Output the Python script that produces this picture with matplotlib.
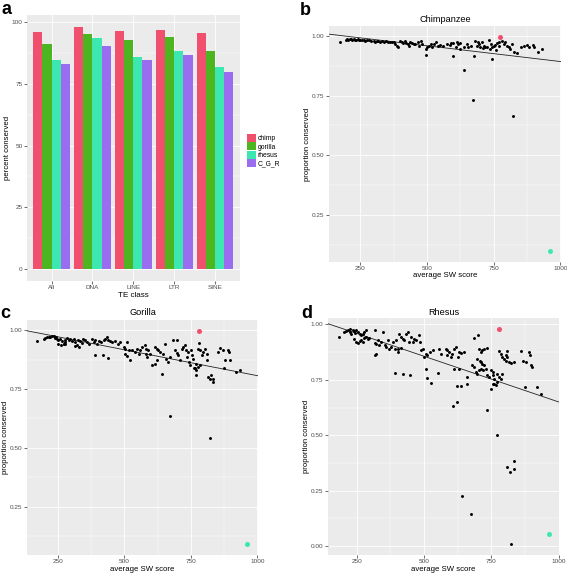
import numpy as np
import matplotlib
matplotlib.use("Agg")
from matplotlib import pyplot as plt
from matplotlib.ticker import MultipleLocator, FormatStrFormatter, FixedLocator
from matplotlib.patches import Patch

# ---- data ----
te_classes = ["All", "DNA", "LINE", "LTR", "SINE"]
species = ["chimp", "gorilla", "rhesus", "C_G_R"]
chimp_pct = [96.1, 98.0, 96.5, 96.8, 95.5]
gorilla_pct = [91.1, 95.4, 92.8, 93.8, 88.2]
rhesus_pct = [84.7, 93.6, 85.9, 88.2, 82.0]
cgr_pct = [83.0, 90.5, 84.7, 86.6, 80.0]
bar_colors = ["#F0506E", "#4CB520", "#3DE8B0", "#9A6CF0"]

# chimpanzee: average SW score vs proportion conserved
chimp_sw = [172, 195, 200, 205, 210, 215, 220, 225, 230, 235, 240, 245, 250, 255, 262, 268, 275, 282, 290,
            300, 305, 312, 318, 325, 332, 340, 348, 355, 362, 368, 375, 381, 388, 392,
            398, 405, 410, 416, 422, 428, 432, 438, 445, 450, 455, 467, 470, 476, 482,
            495, 501, 507, 495, 515, 520, 526, 533, 540, 550, 560,
            574, 587, 590, 599, 610, 612, 618, 625, 599, 625, 637, 640, 650, 655, 665, 675,
            681, 687, 690, 694, 700, 706, 710, 713, 719, 725, 731, 738, 740, 744, 750, 756, 760, 763, 769, 770,
            744, 782, 788, 794, 800, 807, 813, 819, 826, 838, 851, 863, 876, 882, 897, 901, 917, 932,
            672, 822]
chimp_prop = [0.975, 0.985, 0.988, 0.983, 0.987, 0.986, 0.984, 0.988, 0.985, 0.983, 0.986, 0.984, 0.982, 0.985, 0.983, 0.981, 0.984, 0.982, 0.980,
              0.978, 0.975, 0.979, 0.977, 0.976, 0.978, 0.975, 0.977, 0.974, 0.976, 0.973, 0.973, 0.966, 0.959, 0.952,
              0.978, 0.975, 0.970, 0.977, 0.972, 0.968, 0.959, 0.974, 0.970, 0.965, 0.968, 0.973, 0.960, 0.980, 0.966,
              0.945, 0.952, 0.959, 0.920, 0.965, 0.952, 0.966, 0.973, 0.960, 0.962, 0.958,
              0.966, 0.964, 0.970, 0.969, 0.955, 0.973, 0.966, 0.970, 0.918, 0.945, 0.952, 0.857, 0.966, 0.955, 0.960, 0.917,
              0.980, 0.960, 0.975, 0.966, 0.952, 0.973, 0.950, 0.960, 0.952, 0.955, 0.983, 0.945, 0.965, 0.952, 0.960, 0.964, 0.940, 0.969, 0.973, 0.960,
              0.903, 0.980, 0.966, 0.973, 0.959, 0.952, 0.945, 0.966, 0.932, 0.927, 0.955, 0.959, 0.963, 0.952, 0.963, 0.955, 0.931, 0.945,
              0.732, 0.665]

# gorilla
gorilla_sw = [173, 196, 202, 208, 215, 221, 227, 234, 237, 242, 246, 252, 259, 265, 272, 277, 275, 284, 290, 296, 303,
              252, 262, 271, 277,
              309, 313, 315, 321, 328, 325, 334, 340, 346, 353, 359, 365,
              378, 384, 390, 397, 403, 413, 422, 428, 434, 440, 447, 453, 463, 475, 484,
              388, 418, 440,
              497, 503, 509, 516, 503, 509, 522, 528, 541, 547, 553, 560, 566,
              577, 583, 590, 596, 581, 586, 602, 615, 621, 615, 621, 627, 633, 640,
              652, 646, 658, 665, 671, 683, 696, 690, 696, 702, 709, 715, 721, 727, 731, 740, 734, 744, 746,
              752, 756, 759, 761, 765, 771, 771, 777, 781, 786, 790, 796, 802, 809, 811, 815, 821, 827, 834, 834,
              771, 777, 784, 853, 859, 871, 874, 878, 890, 894, 899, 919, 934,
              672, 821]
gorilla_prop = [0.955, 0.965, 0.969, 0.972, 0.974, 0.972, 0.977, 0.978, 0.969, 0.974, 0.965, 0.958, 0.965, 0.955, 0.943, 0.950, 0.960, 0.969, 0.958, 0.963, 0.955,
                0.944, 0.936, 0.941, 0.944,
                0.965, 0.950, 0.932, 0.936, 0.929, 0.958, 0.955, 0.946, 0.965, 0.958, 0.951, 0.944,
                0.965, 0.951, 0.958, 0.944, 0.955, 0.951, 0.958, 0.965, 0.972, 0.958, 0.955, 0.951, 0.955, 0.944, 0.951,
                0.894, 0.894, 0.884,
                0.929, 0.922, 0.951, 0.915, 0.898, 0.890, 0.876, 0.915, 0.908, 0.922, 0.901, 0.915, 0.929,
                0.936, 0.922, 0.915, 0.901, 0.901, 0.887, 0.852, 0.859, 0.873, 0.929, 0.922, 0.915, 0.908, 0.816,
                0.943, 0.901, 0.880, 0.866, 0.887, 0.960, 0.958, 0.915, 0.904, 0.894, 0.873, 0.922, 0.929, 0.936, 0.915, 0.908, 0.887, 0.866, 0.852,
                0.915, 0.894, 0.880, 0.842, 0.838, 0.830, 0.809, 0.922, 0.946, 0.915, 0.894, 0.908, 0.922, 0.901, 0.873, 0.802, 0.795, 0.809, 0.781, 0.795,
                0.859, 0.845, 0.852, 0.908, 0.926, 0.915, 0.842, 0.873, 0.915, 0.908, 0.873, 0.823, 0.830,
                0.634, 0.544]

# rhesus
rhesus_sw = [182, 204, 210, 216, 223, 225, 229, 235, 241, 245, 247, 254, 260, 266, 272, 278, 285,
             241, 247, 254, 260, 266, 272, 278, 285, 291, 297,
             316, 322, 319,
             316, 322, 328, 334, 340, 347, 353, 359, 365, 371, 377, 383, 390, 396, 402, 408, 414, 421, 427, 433, 439, 445, 451, 458, 464, 470, 480, 483,
             402, 414, 489, 495, 501, 507, 510, 520, 532, 557, 563,
             393, 423, 448, 507, 510, 526, 551,
             580, 586, 593, 584, 599, 605, 611, 617, 624, 630, 636, 648,
             611, 630, 621, 638, 658, 661, 621, 608,
             685, 700, 704, 710, 716, 723, 732,
             679, 685, 692, 698, 704, 710, 716, 723, 698, 708, 713, 720, 729, 735, 741, 747, 754, 757, 760, 760, 754, 748, 766, 772, 778, 785, 790, 770,
             732, 778, 785, 791, 797, 803, 809, 803, 815, 809, 822, 834,
             859, 869, 877, 890, 893, 898, 902, 875, 918, 933,
             772, 834, 809, 834, 819, 642, 674, 823]
rhesus_prop = [0.943, 0.965, 0.968, 0.973, 0.977, 0.965, 0.958, 0.973, 0.968, 0.962, 0.973, 0.965, 0.958, 0.950, 0.958, 0.965, 0.973,
               0.932, 0.920, 0.917, 0.923, 0.928, 0.920, 0.938, 0.943, 0.932, 0.938,
               0.973, 0.867, 0.863,
               0.917, 0.913, 0.928, 0.905, 0.920, 0.965, 0.905, 0.898, 0.928, 0.890, 0.898, 0.920, 0.890, 0.928, 0.890, 0.958, 0.943, 0.935, 0.928, 0.958, 0.965, 0.920, 0.943, 0.920, 0.935, 0.928, 0.950, 0.920,
               0.875, 0.893, 0.883, 0.890, 0.852, 0.868, 0.860, 0.875, 0.883, 0.890, 0.867,
               0.780, 0.777, 0.773, 0.800, 0.759, 0.735, 0.782,
               0.890, 0.883, 0.875, 0.860, 0.852, 0.868, 0.890, 0.898, 0.852, 0.875, 0.872, 0.875,
               0.800, 0.797, 0.721, 0.721, 0.732, 0.762, 0.652, 0.631,
               0.938, 0.953, 0.890, 0.875, 0.883, 0.890, 0.895,
               0.818, 0.807, 0.785, 0.777, 0.792, 0.830, 0.822, 0.815, 0.845, 0.837, 0.800, 0.792, 0.800, 0.770, 0.762, 0.792, 0.785, 0.770, 0.755, 0.729, 0.732, 0.710, 0.725, 0.742, 0.762, 0.755, 0.777, 0.777,
               0.616, 0.878, 0.867, 0.852, 0.845, 0.860, 0.852, 0.837, 0.830, 0.878, 0.827, 0.830,
               0.878, 0.837, 0.830, 0.875, 0.860, 0.815, 0.807, 0.717, 0.717, 0.687,
               0.501, 0.383, 0.355, 0.348, 0.334, 0.227, 0.145, 0.009]

# highlighted points (red = top, green = bottom) per panel
red_sw = [775, 780, 778]
red_prop = [0.997, 0.999, 0.980]
green_sw = [963, 963, 962]
green_prop = [0.097, 0.089, 0.056]

panels = [("Chimpanzee", chimp_sw, chimp_prop, [0.25, 0.50, 0.75, 1.00]),
          ("Gorilla", gorilla_sw, gorilla_prop, [0.25, 0.50, 0.75, 1.00]),
          ("Rhesus", rhesus_sw, rhesus_prop, [0.00, 0.25, 0.50, 0.75, 1.00])]

plt.rcParams['font.family'] = ['Liberation Sans', 'DejaVu Sans']
W, H = 567, 574
fig = plt.figure(figsize=(W / 100, H / 100), dpi=100)


def px_axes(l, t, r, b):
    return fig.add_axes([l / W, 1 - b / H, (r - l) / W, (b - t) / H])


def gg(ax):
    ax.set_facecolor('#EBEBEB')
    for s in ax.spines.values():
        s.set_visible(False)
    ax.tick_params(length=2, width=0.5, color='#333333', labelsize=4.6, labelcolor='#4D4D4D', pad=1.2)
    ax.tick_params(which='minor', length=0)
    ax.grid(which='major', color='white', lw=0.6)
    ax.grid(which='minor', color='white', lw=0.3)
    ax.set_axisbelow(True)


def lim(v):
    lo, hi = min(v), max(v)
    d = (hi - lo) * 0.05
    return lo - d, hi + d


# panel a - bar chart
ax = px_axes(27, 15, 239.5, 281)
gg(ax)
x = np.arange(1, len(te_classes) + 1)
w = 0.225
series = [chimp_pct, gorilla_pct, rhesus_pct, cgr_pct]
for i, (vals, c) in enumerate(zip(series, bar_colors)):
    ax.bar(x + (i - 1.5) * w, vals, width=w, color=c)
ax.set_xlim(0.4, 5.6)
ax.set_ylim(-0.05 * 98.0, 98.0 * 1.05)
ax.set_xticks(x)
ax.set_xticklabels(te_classes)
ax.yaxis.set_major_locator(MultipleLocator(25))
ax.yaxis.set_minor_locator(MultipleLocator(12.5))
ax.grid(which='minor', axis='x', visible=False)
ax.set_xlabel("TE class", fontsize=5.8)
ax.set_ylabel("percent conserved", fontsize=5.6)
ax.xaxis.set_label_coords(0.5, -0.056)
ax.xaxis.label.set_va('center')
ax.yaxis.set_label_coords(-0.092, 0.5)
ax.yaxis.label.set_va('center')
handles = [Patch(facecolor=c, edgecolor='none') for c in bar_colors]
ax.legend(handles, species, loc='center left', bbox_to_anchor=(1.034, 0.49), frameon=False,
          fontsize=4.9, handlelength=1.37, handleheight=1.47, labelspacing=0.0,
          handletextpad=0.25, borderpad=0, borderaxespad=0)

# panels b, c, d - scatter plots
boxes = [(329, 26, 561, 262), (27, 320, 258, 555), (328, 318, 559, 555)]
title_pads = [3.0, 3.5, 2.5]
ylab_x = [-0.094, -0.091, -0.094]
xlab_y = [-0.059, -0.06, -0.063]
for k, ((name, sw, prop, yt), box) in enumerate(zip(panels, boxes)):
    ax = px_axes(*box)
    gg(ax)
    all_x = sw + [red_sw[k], green_sw[k]]
    all_y = prop + [red_prop[k], green_prop[k]]
    ax.scatter(sw, prop, s=4.5, color='black', linewidths=0, zorder=3)
    ax.scatter([red_sw[k]], [red_prop[k]], s=13, color='#F0506E', linewidths=0, zorder=3)
    ax.scatter([green_sw[k]], [green_prop[k]], s=13, color='#3DE8B0', linewidths=0, zorder=3)
    # linear fit over all points
    slope, icpt = np.polyfit(all_x, all_y, 1)
    xl = lim(all_x)
    yl = lim(all_y)
    xs = np.array(xl)
    ax.plot(xs, icpt + slope * xs, color='#222222', lw=0.6, zorder=2)
    ax.set_xlim(*xl)
    ax.set_ylim(*yl)
    ax.xaxis.set_major_locator(FixedLocator([250, 500, 750, 1000]))
    ax.xaxis.set_minor_locator(FixedLocator([375, 625, 875]))
    ax.yaxis.set_major_locator(FixedLocator(yt))
    ax.yaxis.set_minor_locator(MultipleLocator(0.125))
    ax.yaxis.set_major_formatter(FormatStrFormatter('%.2f'))
    ax.set_title(name, fontsize=6.6, pad=title_pads[k])
    ax.set_xlabel("average SW score", fontsize=5.6)
    ax.set_ylabel("proportion conserved", fontsize=5.6)
    ax.xaxis.set_label_coords(0.5, xlab_y[k])
    ax.xaxis.label.set_va('center')
    ax.yaxis.set_label_coords(ylab_x[k], 0.5)
    ax.yaxis.label.set_va('center')

# panel letters
for lab, lx, by in [("a", 1, 14), ("b", 300, 15), ("c", 0, 318), ("d", 301, 318)]:
    fig.text(lx / W, 1 - by / H, lab, fontsize=13, fontweight='bold', va='baseline', ha='left')

plt.savefig("out.png", dpi=100)
